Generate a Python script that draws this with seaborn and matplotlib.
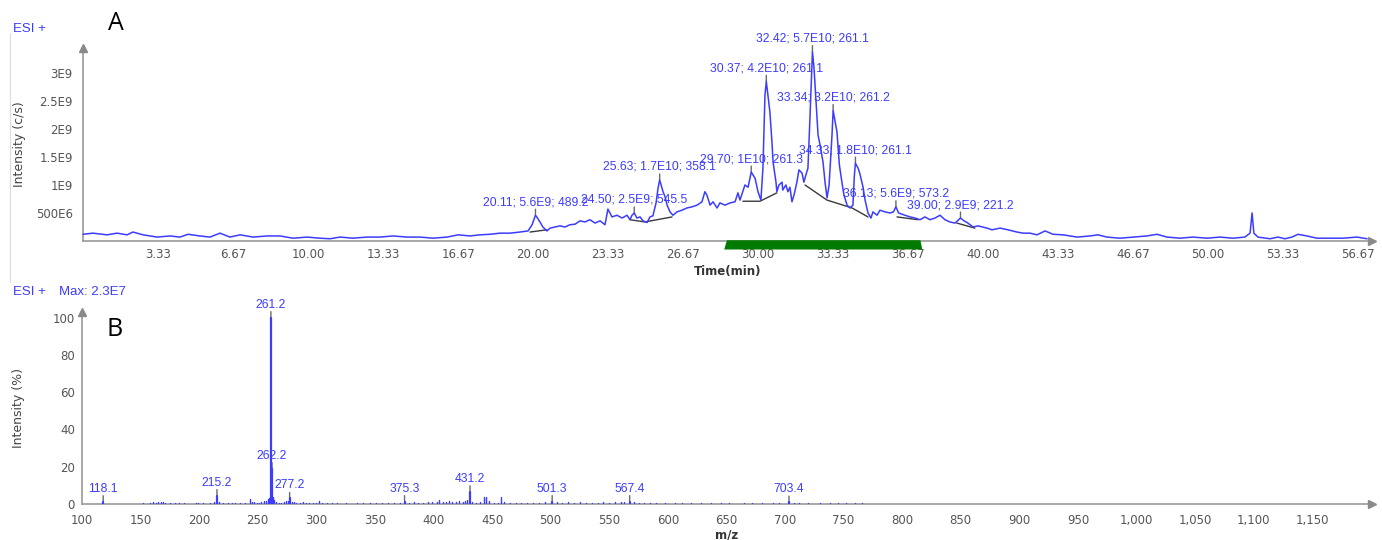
import numpy as np
import pandas as pd
import matplotlib
matplotlib.use("Agg")
import matplotlib.pyplot as plt
from matplotlib.lines import Line2D
from matplotlib.patches import Polygon
import matplotlib.transforms as mtransforms
import seaborn as sns

# ---------------- Panel A: total ion chromatogram (ESI+) ----------------
tic_time = [
    0.00, 0.44, 1.07, 1.51, 1.96, 2.22, 2.67, 3.29, 3.87, 4.31, 4.67, 5.20, 5.64, 6.09,
    6.53, 6.98, 7.56, 8.18, 8.76, 9.33, 9.96, 10.53, 10.98, 11.42, 12.00, 12.62, 13.20,
    13.78, 14.40, 14.98, 15.56, 16.18, 16.67, 17.20, 17.64, 18.09, 18.53, 18.98, 19.42,
    19.78, 19.96, 20.11, 20.20, 20.31, 20.44, 20.62, 20.76, 20.98, 21.20, 21.42, 21.64,
    21.87, 22.09, 22.31, 22.53, 22.76, 22.98, 23.20, 23.33, 23.51, 23.73, 23.96, 24.18,
    24.31, 24.40, 24.50, 24.62, 24.76, 24.89, 25.07, 25.20, 25.33, 25.47, 25.56, 25.63,
    25.78, 25.87, 25.96, 26.09, 26.22, 26.40, 26.62, 26.84, 27.07, 27.29, 27.51, 27.64,
    27.73, 27.87, 28.00, 28.18, 28.31, 28.53, 28.76, 28.98, 29.11, 29.20, 29.42, 29.56,
    29.70, 29.87, 30.00, 30.13, 30.22, 30.31, 30.37, 30.53, 30.62, 30.67, 30.80, 30.84,
    30.93, 31.07, 31.10, 31.24, 31.33, 31.42, 31.51, 31.60, 31.73, 31.82, 31.96, 32.04,
    32.13, 32.22, 32.31, 32.42, 32.49, 32.58, 32.67, 32.76, 32.89, 32.98, 33.07, 33.16,
    33.29, 33.34, 33.51, 33.62, 33.73, 33.82, 33.96, 34.09, 34.22, 34.28, 34.33, 34.45,
    34.53, 34.67, 34.76, 34.89, 35.02, 35.11, 35.29, 35.42, 35.64, 35.87, 36.02, 36.13,
    36.25, 36.53, 36.76, 36.98, 37.20, 37.42, 37.64, 37.87, 38.09, 38.31, 38.53, 38.76,
    39.00, 39.16, 39.33, 39.56, 39.78, 40.18, 40.40, 40.76, 41.11, 41.51, 41.78, 42.09,
    42.40, 42.76, 43.11, 43.56, 44.18, 44.76, 45.11, 45.51, 46.09, 46.67, 47.29, 47.73,
    48.18, 48.76, 49.33, 49.96, 50.53, 51.11, 51.64, 51.87, 51.96, 52.04, 52.22, 52.76,
    53.11, 53.42, 53.73, 54.00, 54.40, 54.84, 55.42, 56.00, 56.62, 57.07,
]
tic_intensity_e9 = [
    0.12, 0.14, 0.11, 0.14, 0.11, 0.16, 0.11, 0.07, 0.09, 0.07, 0.12, 0.09, 0.07, 0.14,
    0.07, 0.11, 0.07, 0.09, 0.09, 0.05, 0.07, 0.05, 0.04, 0.07, 0.05, 0.07, 0.07,
    0.09, 0.07, 0.07, 0.05, 0.07, 0.11, 0.09, 0.11, 0.12, 0.14, 0.14, 0.16,
    0.18, 0.29, 0.46, 0.41, 0.34, 0.25, 0.18, 0.23, 0.25, 0.27, 0.25, 0.29,
    0.30, 0.36, 0.34, 0.38, 0.32, 0.36, 0.29, 0.57, 0.43, 0.46, 0.41, 0.46,
    0.38, 0.46, 0.50, 0.41, 0.43, 0.36, 0.33, 0.43, 0.45, 0.68, 0.95, 1.09,
    0.88, 0.79, 0.64, 0.52, 0.46, 0.52, 0.55, 0.59, 0.61, 0.64, 0.70, 0.88,
    0.82, 0.64, 0.70, 0.59, 0.68, 0.64, 0.68, 0.70, 0.86, 0.73, 1.00, 0.96,
    1.23, 1.12, 0.88, 0.73, 1.30, 2.60, 2.85, 2.30, 1.77, 1.41, 1.05, 0.88,
    1.00, 1.05, 0.91, 1.00, 0.88, 0.96, 0.70, 0.82, 1.05, 1.27, 1.21, 1.05,
    1.18, 1.30, 2.20, 3.38, 3.09, 2.48, 1.89, 1.71, 1.41, 1.05, 0.77, 1.00,
    1.89, 2.33, 1.95, 1.35, 1.05, 0.82, 0.64, 0.59, 0.64, 1.15, 1.39, 1.30,
    1.20, 0.96, 0.73, 0.50, 0.41, 0.52, 0.46, 0.55, 0.52, 0.50, 0.52, 0.61,
    0.50, 0.46, 0.43, 0.41, 0.38, 0.43, 0.38, 0.41, 0.46, 0.38, 0.34, 0.32,
    0.41, 0.36, 0.32, 0.25, 0.27, 0.23, 0.20, 0.23, 0.20, 0.16, 0.14, 0.14,
    0.11, 0.18, 0.12, 0.11, 0.07, 0.09, 0.11, 0.07, 0.05, 0.07, 0.09, 0.12,
    0.07, 0.05, 0.07, 0.05, 0.07, 0.05, 0.07, 0.14, 0.50, 0.14, 0.07, 0.04,
    0.07, 0.04, 0.07, 0.12, 0.09, 0.05, 0.05, 0.05, 0.07, 0.04,
]

# integration baselines drawn under the labelled peaks
baseline_id = [1, 1, 2, 2, 2, 3, 3, 3, 4, 4, 4, 4, 5, 5, 6, 6]
baseline_time = [19.87, 20.62, 24.31, 24.98, 26.18, 29.33, 30.09, 30.84,
                 32.09, 33.07, 34.18, 34.89, 36.18, 37.11, 38.84, 39.64]
baseline_e9 = [0.16, 0.20, 0.38, 0.34, 0.43, 0.71, 0.71, 0.86,
               1.00, 0.73, 0.59, 0.43, 0.43, 0.38, 0.32, 0.23]

# labelled peaks: retention time; area; base m/z
peak_rt = [20.11, 24.50, 25.63, 29.70, 30.37, 32.42, 33.34, 34.33, 36.13, 39.00]
peak_area = ["5.6E9", "2.5E9", "1.7E10", "1E10", "4.2E10", "5.7E10",
             "3.2E10", "1.8E10", "5.6E9", "2.9E9"]
peak_base_mz = ["489.2", "545.5", "358.1", "261.3", "261.1", "261.1",
                "261.2", "261.1", "573.2", "221.2"]

# time range combined into the spectrum below
selection_window = [28.62, 37.22]

a_xtick_labels = ["3.33", "6.67", "10.00", "13.33", "16.67", "20.00", "23.33", "26.67",
                  "30.00", "33.33", "36.67", "40.00", "43.33", "46.67", "50.00",
                  "53.33", "56.67"]
a_ytick_values = [0.5e9, 1.0e9, 1.5e9, 2.0e9, 2.5e9, 3.0e9]
a_ytick_labels = ["500E6", "1E9", "1.5E9", "2E9", "2.5E9", "3E9"]

# ---------------- Panel B: mass spectrum ----------------
label_mz = [118.1, 215.2, 261.2, 262.2, 277.2, 375.3, 431.2, 501.3, 567.4, 703.4]
label_int = [1.2, 4.5, 100.0, 19.0, 3.0, 1.3, 6.5, 1.3, 1.3, 1.0]

minor_mz = [
    152, 158, 161, 163, 165, 167, 169, 171, 175, 179, 183, 187, 197, 199, 203, 209,
    213, 217, 220, 225, 228, 231, 235, 239, 243, 245, 247, 249, 251, 253, 255, 257,
    259, 260, 263, 264, 266, 268, 270, 272, 274, 276, 279, 281, 283, 286, 289, 291,
    294, 297, 300, 302, 305, 309, 313, 318, 325, 335, 340, 346, 351, 356, 361, 366,
    371, 379, 383, 387, 391, 395, 399, 403, 405, 408, 411, 413, 416, 419, 422, 425,
    427, 429, 433, 436, 440, 443, 445, 447, 452, 455, 458, 460, 465, 470, 475, 480,
    485, 490, 495, 505, 510, 515, 520, 525, 530, 535, 540, 545, 550, 555, 560, 563,
    571, 575, 580, 585, 590, 598, 606, 612, 620, 628, 637, 645, 652, 665, 672, 680,
    690, 695, 708, 712, 720, 730, 738, 745, 752, 760, 766,
]
minor_int = [
    0.6, 0.5, 1.2, 0.8, 1.3, 1.0, 0.9, 0.6, 0.5, 0.8, 0.5, 0.7, 0.8, 0.6, 0.5, 0.5,
    1.0, 1.2, 0.4, 0.6, 0.5, 0.6, 0.5, 0.5, 2.8, 1.3, 1.0, 0.8, 0.6, 1.0, 1.5, 1.8,
    2.5, 3.0, 4.0, 2.0, 1.0, 0.8, 0.8, 1.0, 1.5, 1.8, 1.2, 1.0, 0.8, 0.6, 1.2, 0.8,
    0.6, 0.5, 0.7, 1.8, 0.6, 0.4, 0.5, 0.6, 0.4, 0.4, 0.5, 0.4, 0.5, 0.4, 0.5, 0.4,
    0.6, 0.8, 0.9, 0.7, 0.8, 0.9, 1.0, 1.0, 2.2, 1.2, 1.0, 1.8, 1.2, 1.3, 1.5, 1.3,
    1.5, 2.0, 1.0, 0.8, 1.0, 3.8, 3.5, 1.5, 0.8, 0.7, 3.5, 1.2, 0.8, 0.7, 0.8, 0.6,
    0.7, 0.8, 0.9, 0.9, 0.8, 0.9, 0.8, 0.9, 0.8, 0.7, 0.8, 0.9, 0.8, 0.9, 1.0, 1.1,
    1.0, 0.8, 0.7, 0.6, 0.5, 0.4, 0.4, 0.4, 0.5, 0.4, 0.4, 0.4, 0.3, 0.4, 0.4, 0.3,
    0.4, 0.5, 0.4, 0.5, 0.4, 0.4, 0.3, 0.4, 0.3, 0.4, 0.3,
]
b_xtick_values = list(range(100, 1151, 50))
b_ytick_values = [0, 20, 40, 60, 80, 100]

# ---------------- styling ----------------
BLUE = "#3c3cff"
AXIS_GREY = "#9a9a9a"
TICK_TEXT = "#555555"
LEADER = "#6a6a6a"

sns.set_theme(style="white")
plt.rcParams["font.family"] = ["DejaVu Sans"]

W, H = 1382, 540
fig = plt.figure(figsize=(W / 100, H / 100), dpi=100)
fig.patch.set_facecolor("white")

axA = fig.add_axes([83 / W, 1 - 241 / H, 1289 / W, 193 / H])
axB = fig.add_axes([82 / W, 1 - 504 / H, 1290 / W, 192 / H])


def style_axes(ax, xpad, ypad):
    for side in ("top", "right"):
        ax.spines[side].set_visible(False)
    for side in ("left", "bottom"):
        ax.spines[side].set_color(AXIS_GREY)
        ax.spines[side].set_linewidth(1.2)
    ax.tick_params(axis="both", colors=AXIS_GREY, labelcolor=TICK_TEXT,
                   length=3, width=1, labelsize=8.5)
    ax.tick_params(axis="x", pad=xpad)
    ax.tick_params(axis="y", pad=ypad)
    ax.grid(False)
    ax.set_facecolor("white")
    ax.plot(1, 0, marker=">", color="#8a8a8a", markersize=6,
            transform=ax.transAxes, clip_on=False, zorder=6)
    ax.plot(0, 1, marker="^", color="#8a8a8a", markersize=6,
            transform=ax.transAxes, clip_on=False, zorder=6)


def label_peak(ax, x, y, text, size):
    px = 72 / fig.dpi
    ax.annotate("", xy=(x, y), xytext=(0, 6 * px), textcoords="offset points",
                arrowprops=dict(arrowstyle="-", color=LEADER, lw=1,
                                shrinkA=0, shrinkB=0), zorder=2)
    ax.annotate(text, xy=(x, y), xytext=(0, 10 * px), textcoords="offset points",
                ha="center", va="baseline", color=BLUE, fontsize=size,
                family=["Liberation Sans", "DejaVu Sans"], zorder=1,
                annotation_clip=False)


# ---- panel A ----
tic = pd.DataFrame({"time": tic_time,
                    "intensity": np.array(tic_intensity_e9) * 1e9})
sns.lineplot(data=tic, x="time", y="intensity", ax=axA, color=BLUE,
             linewidth=1.1, estimator=None, sort=False, zorder=4)
for line in axA.lines:
    line.set_clip_on(False)

base = pd.DataFrame({"seg": baseline_id, "time": baseline_time,
                     "intensity": np.array(baseline_e9) * 1e9})
sns.lineplot(data=base, x="time", y="intensity", units="seg", ax=axA,
             color="#3a3a3a", linewidth=1.0, estimator=None, sort=False,
             legend=False, zorder=3)

for rt, area, mz in zip(peak_rt, peak_area, peak_base_mz):
    apex = np.interp(rt, tic_time, tic_intensity_e9) * 1e9
    label_peak(axA, rt, apex, f"{rt:.2f}; {area}; {mz}", 8.7)

# selection bar under the time axis
t0, t1 = selection_window
blend = mtransforms.blended_transform_factory(axA.transData, axA.transAxes)
axA.add_patch(Polygon([(t0 - 0.12, -0.044), (t0, 0.004), (t1, 0.004), (t1 + 0.08, -0.044)],
                      closed=True, facecolor="#007a00", edgecolor="none",
                      transform=blend, clip_on=False, zorder=5))

axA.set_xlim(0, 57.29)
axA.set_ylim(0, 3.446e9)
axA.set_xticks([float(s) for s in a_xtick_labels])
axA.set_xticklabels(a_xtick_labels)
axA.set_yticks(a_ytick_values)
axA.set_yticklabels(a_ytick_labels)
style_axes(axA, xpad=2.3, ypad=4.3)
axA.set_xlabel("Time(min)", fontsize=8.5, fontweight="bold", color="#333333")
axA.xaxis.set_label_coords(0.5, -0.125)
axA.set_ylabel("Intensity (c/s)", fontsize=9, color="#444444")
axA.yaxis.set_label_coords(-0.044, 0.5)

# ---- panel B ----
def stick_frame(mz_values, int_values):
    rows = []
    for i, (m, h) in enumerate(zip(mz_values, int_values)):
        rows.append((i, m, 0.0))
        rows.append((i, m, h))
    return pd.DataFrame(rows, columns=["peak", "mz", "intensity"])


sns.lineplot(data=stick_frame(minor_mz, minor_int), x="mz", y="intensity",
             units="peak", ax=axB, color=BLUE, linewidth=1.0, estimator=None,
             sort=False, legend=False, zorder=4)
sns.lineplot(data=stick_frame(label_mz, label_int), x="mz", y="intensity",
             units="peak", ax=axB, color=BLUE, linewidth=1.6, estimator=None,
             sort=False, legend=False, zorder=4)

for m, h in zip(label_mz, label_int):
    label_peak(axB, m, h, f"{m:.1f}", 8.7)

axB.set_xlim(100, 1201)
axB.set_ylim(0, 103)
axB.set_xticks(b_xtick_values)
axB.set_xticklabels([f"{v:,}" for v in b_xtick_values])
axB.set_yticks(b_ytick_values)
axB.set_yticklabels([str(v) for v in b_ytick_values])
style_axes(axB, xpad=4.5, ypad=2.2)
axB.set_xlabel("m/z", fontsize=8.5, fontweight="bold", color="#333333")
axB.xaxis.set_label_coords(0.5, -0.13)
axB.set_ylabel("Intensity (%)", fontsize=9, color="#444444")
axB.yaxis.set_label_coords(-0.044, 0.5)

# ---- header texts and panel letters ----
blue_font = ["Liberation Sans", "DejaVu Sans"]
fig.text(13 / W, 1 - 29 / H, "ESI +", color=BLUE, fontsize=9.5, family=blue_font,
         ha="left", va="center")
fig.text(13 / W, 1 - 292 / H, "ESI +", color=BLUE, fontsize=9.5, family=blue_font,
         ha="left", va="center")
fig.text(59 / W, 1 - 292 / H, "Max: 2.3E7", color=BLUE, fontsize=9.5, family=blue_font,
         ha="left", va="center")
fig.text(116 / W, 1 - 24 / H, "A", color="black", fontsize=18, family=["Open Sans"],
         ha="center", va="center")
fig.text(115 / W, 1 - 329 / H, "B", color="black", fontsize=18, family=["Open Sans"],
         ha="center", va="center")

# thin frame edge at the left of the chromatogram panel
fig.add_artist(Line2D([10 / W, 10 / W], [1 - 33 / H, 1 - 282 / H],
                      color="#dcdcdc", linewidth=0.8))

fig.savefig("out.png", dpi=100, facecolor="white")
